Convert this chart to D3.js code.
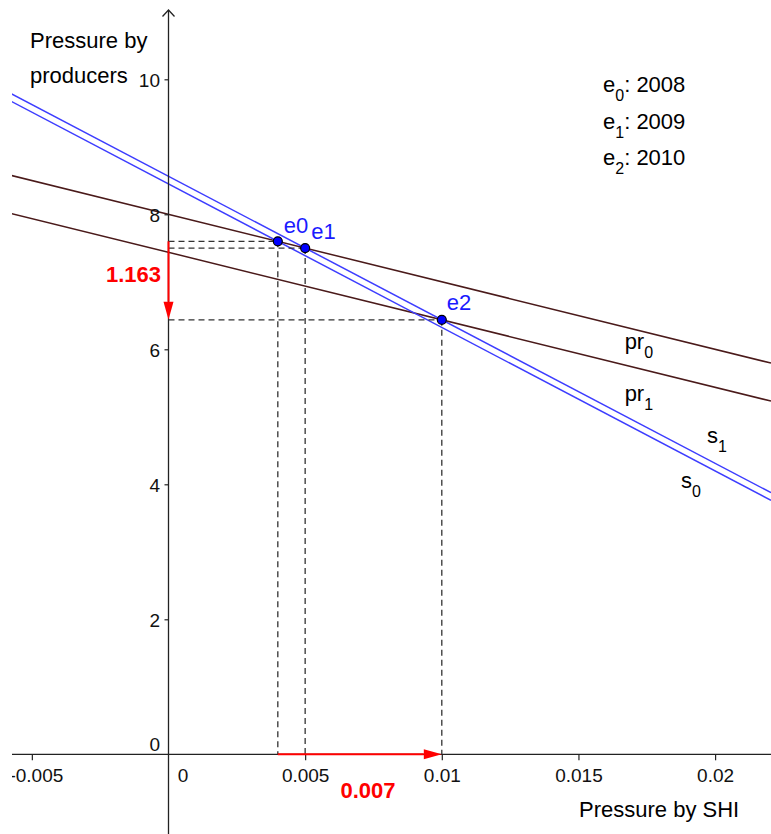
<!DOCTYPE html>
<html>
<head>
<meta charset="utf-8">
<script src="https://cdn.jsdelivr.net/npm/d3@7/dist/d3.min.js"></script>
<style>
  html, body { margin: 0; padding: 0; background: #fff; }
  svg { display: block; font-family: "Liberation Sans", Arial, sans-serif; }
</style>
</head>
<body>
<svg id="chart" width="771" height="834"></svg>
<script>
// ---- data ----
const xTicks = [-0.005, 0, 0.005, 0.01, 0.015, 0.02];
const xTickLabels = ["-0.005", "0", "0.005", "0.01", "0.015", "0.02"];
const yTicks = [0, 2, 4, 6, 8, 10];
const yTickLabels = ["0", "2", "4", "6", "8", "10"];

const lineNames = ["pr", "pr", "s", "s"];
const lineSubs = ["0", "1", "0", "1"];
const lineIntercepts = [8.0, 7.437, 8.450, 8.563];
const lineSlopes = [-100, -100, -212.6, -212.6];
const lineKinds = ["producer", "producer", "shi", "shi"];
// label anchor (data coords) for each line label
const lineLabelX = [0.01669, 0.01669, 0.01875, 0.0197];
const lineLabelY = [6.0, 5.235, 3.945, 4.616];

const pointNames = ["e0", "e1", "e2"];
const pointX = [0.004, 0.005, 0.01];
const pointY = [7.6, 7.5, 6.437];

const legendKeys = ["e", "e", "e"];
const legendSubs = ["0", "1", "2"];
const legendYears = ["2008", "2009", "2010"];

const deltaYLabel = "1.163";
const deltaXLabel = "0.007";

// ---- layout ----
const W = 771, H = 834;
const pxPerX = 27330, pxPerY = 67.5;
const x0px = 168.5, y0px = 754.3;
const x = d3.scaleLinear().domain([-x0px / pxPerX, (W - x0px) / pxPerX]).range([0, W]);
const y = d3.scaleLinear().domain([-(H - y0px) / pxPerY, y0px / pxPerY]).range([H, 0]);

const svg = d3.select("#chart");
svg.append("defs").append("clipPath").attr("id", "clip")
  .append("rect").attr("x", 12).attr("y", 0).attr("width", W - 12).attr("height", H);

const plot = svg.append("g").attr("clip-path", "url(#clip)");

// x axis line
plot.append("line")
  .attr("x1", x.range()[0]).attr("x2", x.range()[1])
  .attr("y1", y(0)).attr("y2", y(0))
  .attr("stroke", "#222").attr("stroke-width", 1.3);
// y axis line + arrow
svg.append("line")
  .attr("x1", x(0)).attr("x2", x(0))
  .attr("y1", 10).attr("y2", H)
  .attr("stroke", "#222").attr("stroke-width", 1.3);
svg.append("path")
  .attr("d", `M${x(0) - 6},${16.5} L${x(0)},${10} L${x(0) + 6},${16.5}`)
  .attr("fill", "none").attr("stroke", "#222").attr("stroke-width", 1.3);

// x axis ticks via d3 axis
const xAxis = d3.axisBottom(x).tickValues(xTicks).tickSize(6)
  .tickFormat((d, i) => xTickLabels[i]);
const gx = plot.append("g").attr("transform", `translate(0,${y(0)})`).call(xAxis);
gx.select(".domain").remove();
gx.selectAll(".tick line").attr("stroke", "#222").attr("stroke-width", 1.2);
gx.selectAll(".tick text")
  .attr("font-size", 19).attr("font-family", "Liberation Sans, Arial, sans-serif")
  .attr("fill", "#111").attr("y", 27.7).attr("dy", 0)
  .attr("dx", d => d === 0 ? 14 : (d < 0 ? 4 : 0));
gx.selectAll(".tick").filter(d => d === 0).select("line").remove();

// y axis ticks via d3 axis
const yAxis = d3.axisLeft(y).tickValues(yTicks).tickSize(4)
  .tickFormat((d, i) => yTickLabels[i]);
const gy = svg.append("g").attr("transform", `translate(${x(0)},0)`).call(yAxis);
gy.select(".domain").remove();
gy.selectAll(".tick line").attr("stroke", "#222").attr("stroke-width", 1.2);
gy.selectAll(".tick text")
  .attr("font-size", 19).attr("font-family", "Liberation Sans, Arial, sans-serif")
  .attr("fill", "#111").attr("x", -8.5).attr("dy", d => d === 0 ? -4.3 : 6.8);
gy.selectAll(".tick").filter(d => d === 0).select("line").remove();

// dashed guide lines
const pts = pointNames.map((n, i) => ({ name: n, x: pointX[i], y: pointY[i] }));
const guides = svg.append("g").attr("stroke", "#333").attr("stroke-width", 1.3)
  .attr("stroke-dasharray", "6,4").attr("fill", "none");
pts.forEach(p => {
  guides.append("line").attr("x1", x(0)).attr("x2", x(p.x)).attr("y1", y(p.y)).attr("y2", y(p.y));
  guides.append("line").attr("x1", x(p.x)).attr("x2", x(p.x)).attr("y1", y(p.y)).attr("y2", y(0));
});

// lines
const colors = { producer: "#4a1a1a", shi: "#3d3dff" };
const [xd0, xd1] = x.domain();
lineNames.forEach((n, i) => {
  plot.append("line")
    .attr("x1", x(xd0)).attr("y1", y(lineIntercepts[i] + lineSlopes[i] * xd0))
    .attr("x2", x(xd1)).attr("y2", y(lineIntercepts[i] + lineSlopes[i] * xd1))
    .attr("stroke", colors[lineKinds[i]]).attr("stroke-width", 1.5);
});

// line labels
lineNames.forEach((n, i) => {
  const t = svg.append("text")
    .attr("x", x(lineLabelX[i])).attr("y", y(lineLabelY[i]))
    .attr("font-size", 22).attr("fill", "#000");
  t.append("tspan").text(n);
  t.append("tspan").attr("font-size", 16).attr("dy", 9).text(lineSubs[i]);
});

// red arrows
const red = "#ff0000";
function arrow(x1, y1, x2, y2) {
  const ang = Math.atan2(y2 - y1, x2 - x1), L = 18, hw = 5;
  const bx = x2 - L * Math.cos(ang), by = y2 - L * Math.sin(ang);
  svg.append("line").attr("x1", x1).attr("y1", y1).attr("x2", bx).attr("y2", by)
    .attr("stroke", red).attr("stroke-width", 2);
  const px = -Math.sin(ang) * hw, py = Math.cos(ang) * hw;
  svg.append("path")
    .attr("d", `M${x2},${y2} L${bx + px},${by + py} L${bx - px},${by - py} Z`)
    .attr("fill", red);
}
arrow(x(0), y(pointY[0]), x(0), y(pointY[2]));
arrow(x(pointX[0]), y(0), x(pointX[2]), y(0));

svg.append("text").attr("x", 133.5).attr("y", 281.7).attr("text-anchor", "middle")
  .attr("font-size", 22).attr("font-weight", "bold").attr("fill", red).text(deltaYLabel);
svg.append("text").attr("x", 368).attr("y", 798).attr("text-anchor", "middle")
  .attr("font-size", 22).attr("font-weight", "bold").attr("fill", red).text(deltaXLabel);

// points
svg.append("g").selectAll("circle").data(pts).join("circle")
  .attr("cx", d => x(d.x)).attr("cy", d => y(d.y)).attr("r", 4.5)
  .attr("fill", "#0000ff").attr("stroke", "#000").attr("stroke-width", 1.2);

// point labels
const plOff = [[6, -8], [6, -9], [5, -10]];
svg.append("g").selectAll("text").data(pts).join("text")
  .attr("x", (d, i) => x(d.x) + plOff[i][0]).attr("y", (d, i) => y(d.y) + plOff[i][1])
  .attr("font-size", 22).attr("fill", "#1a1aff").text(d => d.name);

// axis titles
svg.append("text").attr("x", 579).attr("y", 817).attr("font-size", 22).attr("fill", "#000")
  .text("Pressure by SHI");
const yt = svg.append("text").attr("font-size", 22).attr("fill", "#000");
yt.append("tspan").attr("x", 30).attr("y", 48).text("Pressure by");
yt.append("tspan").attr("x", 30).attr("y", 83).text("producers");

// legend
legendKeys.forEach((k, i) => {
  const t = svg.append("text").attr("x", 603).attr("y", 92 + i * 36.5)
    .attr("font-size", 22).attr("fill", "#000");
  t.append("tspan").text(k);
  t.append("tspan").attr("font-size", 16).attr("dy", 9).text(legendSubs[i]);
  t.append("tspan").attr("dy", -9).text(": " + legendYears[i]);
});
</script>
</body>
</html>
